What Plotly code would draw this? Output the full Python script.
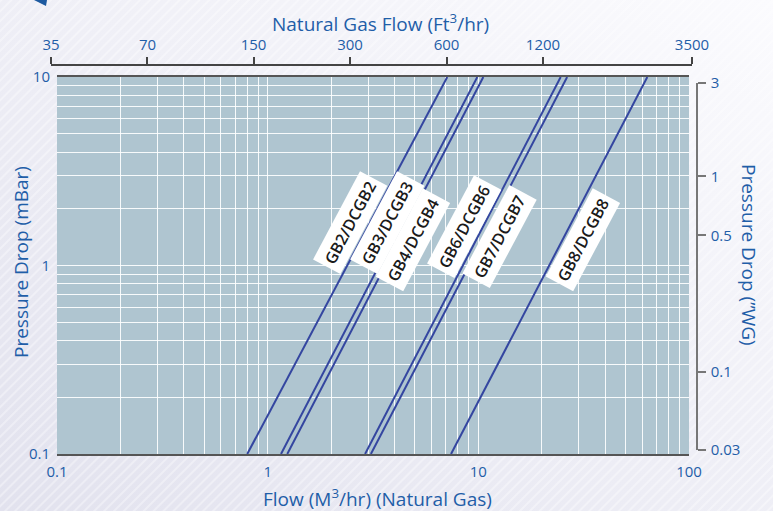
import base64
import numpy as np
import plotly.graph_objects as go

# ---------------- data ----------------
models = ['GB2/DCGB2', 'GB3/DCGB3', 'GB4/DCGB4', 'GB6/DCGB6', 'GB7/DCGB7', 'GB8/DCGB8']
pressure_ends = [0.1, 10]                      # mBar at each end of the curves
flow_at_low = [0.80, 1.157, 1.239, 2.90, 3.09, 7.42]     # M3/hr at 0.1 mBar
flow_at_high = [7.12, 9.89, 10.56, 24.6, 26.4, 63.4]     # M3/hr at 10 mBar
label_flow = [2.46, 3.69, 4.90, 8.55, 12.67, 31.4]
label_pressure = [1.68, 1.68, 1.36, 1.60, 1.43, 1.36]

x_ticks = [0.1, 1, 10, 100]
x_tick_text = ['0.1', '1', '10', '100']
y_ticks = [0.1, 1, 10]
y_tick_text = ['0.1', '1', '10']
top_ticks = [35, 70, 150, 300, 600, 1200, 3500]
top_tick_text = ['35', '70', '150', '300', '600', '1200', '3500']
right_ticks = [3, 1, 0.5, 0.1, 0.04]
right_tick_text = ['3', '1', '0.5', '0.1', '0.03']

# ---------------- style ----------------
W, H = 773, 511
ML, MR, MT, MB = 51, 76, 65, 57
PW, PH = W - ML - MR, H - MT - MB
BLUE = '#1f5ea8'
LINE = '#3446a0'
FONT = 'Open Sans'
GRID = 'rgba(255,255,255,0.9)'

def px(x):
    return (x - ML) / PW

def py(y):
    return (H - MB - y) / PH

minor_x = [k * 10.0 ** d for d in (-1, 0, 1) for k in range(2, 10)]
minor_y = [k * 10.0 ** d for d in (-1, 0) for k in range(2, 10)]

fig = go.Figure()
for name, lo, hi in zip(models, flow_at_low, flow_at_high):
    fig.add_trace(go.Scatter(x=[lo, hi], y=pressure_ends, mode='lines', name=name,
                             line=dict(color=LINE, width=2), showlegend=False,
                             hoverinfo='skip'))

# helper trace so the secondary (top / right) axes get drawn
fig.add_trace(go.Scatter(x=[35, 3500], y=[0.04, 3], xaxis='x2', yaxis='y2', mode='markers',
                         marker=dict(opacity=0), showlegend=False, hoverinfo='skip'))

for name, fx, fy in zip(models, label_flow, label_pressure):
    fig.add_annotation(x=np.log10(fx), y=np.log10(fy), xref='x', yref='y', text=name,
                       showarrow=False, textangle=-62, bgcolor='white', borderpad=4,
                       xanchor='center', yanchor='middle',
                       font=dict(family=FONT, size=16, color='#1a1a1a', weight=600))

tick_font = dict(family=FONT, size=15, color=BLUE)
title_font = dict(family=FONT, size=19, color=BLUE)

fig.update_layout(
    width=W, height=H,
    margin=dict(l=ML, r=MR, t=MT, b=MB, pad=0, autoexpand=False),
    paper_bgcolor='#eeeef5',
    plot_bgcolor='rgba(0,0,0,0)',
    xaxis=dict(type='log', range=[-1, 2], domain=[px(57), px(689)], automargin=False,
               tickmode='array', tickvals=x_ticks, ticktext=x_tick_text,
               showgrid=True, gridcolor=GRID, gridwidth=1.3,
               minor=dict(tickmode='array', tickvals=minor_x, showgrid=True,
                          gridcolor=GRID, gridwidth=1.2),
               showline=True, linecolor='#555555', linewidth=2, mirror=True,
               ticks='', tickfont=tick_font, ticklabelstandoff=3, zeroline=False),
    yaxis=dict(type='log', range=[-1, 1], domain=[0, py(77)], automargin=False,
               tickmode='array', tickvals=y_ticks, ticktext=y_tick_text,
               showgrid=True, gridcolor=GRID, gridwidth=1.3,
               minor=dict(tickmode='array', tickvals=minor_y, showgrid=True,
                          gridcolor=GRID, gridwidth=1.2),
               showline=False, ticks='', tickfont=tick_font, ticklabelstandoff=6,
               zeroline=False),
    xaxis2=dict(type='log', range=[np.log10(35), np.log10(3500)], domain=[0, px(692)],
                anchor='free', position=1, side='top', automargin=False,
                tickmode='array', tickvals=top_ticks, ticktext=top_tick_text,
                showgrid=False, showline=True, linecolor='#444444', linewidth=1.5,
                ticks='outside', ticklen=7, tickwidth=1.5, tickcolor='#444444',
                tickfont=tick_font, ticklabelstandoff=1, zeroline=False),
    yaxis2=dict(type='log', range=[np.log10(0.04), np.log10(3)], domain=[py(450), py(83)],
                anchor='free', position=1, side='right', automargin=False,
                tickmode='array', tickvals=right_ticks, ticktext=right_tick_text,
                showgrid=False, showline=True, linecolor='#777777', linewidth=1.5,
                ticks='outside', ticklen=8, tickwidth=1.5, tickcolor='#777777',
                tickfont=tick_font, ticklabelstandoff=2, zeroline=False),
)

# page background: soft diagonal gradient with faint stripes
svg = f'''<svg xmlns="http://www.w3.org/2000/svg" width="{W}" height="{H}">
<defs>
<linearGradient id="g" x1="1" y1="0" x2="0" y2="1">
<stop offset="0" stop-color="#fbfbfe"/><stop offset="1" stop-color="#e2e2ee"/>
</linearGradient>
<pattern id="p" width="7" height="7" patternUnits="userSpaceOnUse" patternTransform="rotate(45)">
<rect width="2" height="7" fill="#ffffff" fill-opacity="0.35"/>
</pattern>
</defs>
<rect width="{W}" height="{H}" fill="url(#g)"/>
<rect width="{W}" height="{H}" fill="url(#p)"/>
</svg>'''
fig.add_layout_image(source='data:image/svg+xml;base64,' + base64.b64encode(svg.encode()).decode(),
                     xref='paper', yref='paper', x=px(0), y=py(0), sizex=W / PW, sizey=H / PH,
                     xanchor='left', yanchor='top', sizing='stretch', layer='below')

# plot area background
fig.add_shape(type='rect', xref='x domain', yref='y domain', x0=0, x1=1, y0=0, y1=1,
              fillcolor='#afc5d0', line=dict(width=0), layer='below')

# titles
common = dict(xref='paper', yref='paper', showarrow=False, xanchor='center', yanchor='middle',
              font=title_font)
fig.add_annotation(x=px(380), y=py(23), text='Natural Gas Flow (Ft<sup>3</sup>/hr)', **common)
fig.add_annotation(x=px(377), y=py(498), text='Flow (M<sup>3</sup>/hr) (Natural Gas)', **common)
fig.add_annotation(x=px(21), y=py(262), text='Pressure Drop (mBar)', textangle=-90, **common)
fig.add_annotation(x=px(749), y=py(255), text='Pressure Drop (\u201dWG)', textangle=90, **common)

# decorative logo corner
fig.add_shape(type='path', xref='paper', yref='paper',
              path=f'M {px(34)} {py(0)} L {px(47)} {py(0)} L {px(46)} {py(6)} Z',
              fillcolor='#1d5aa0', line=dict(width=0))

fig.write_html('out.html', config={'displayModeBar': False},
               post_script="document.body.style.margin='0';")
